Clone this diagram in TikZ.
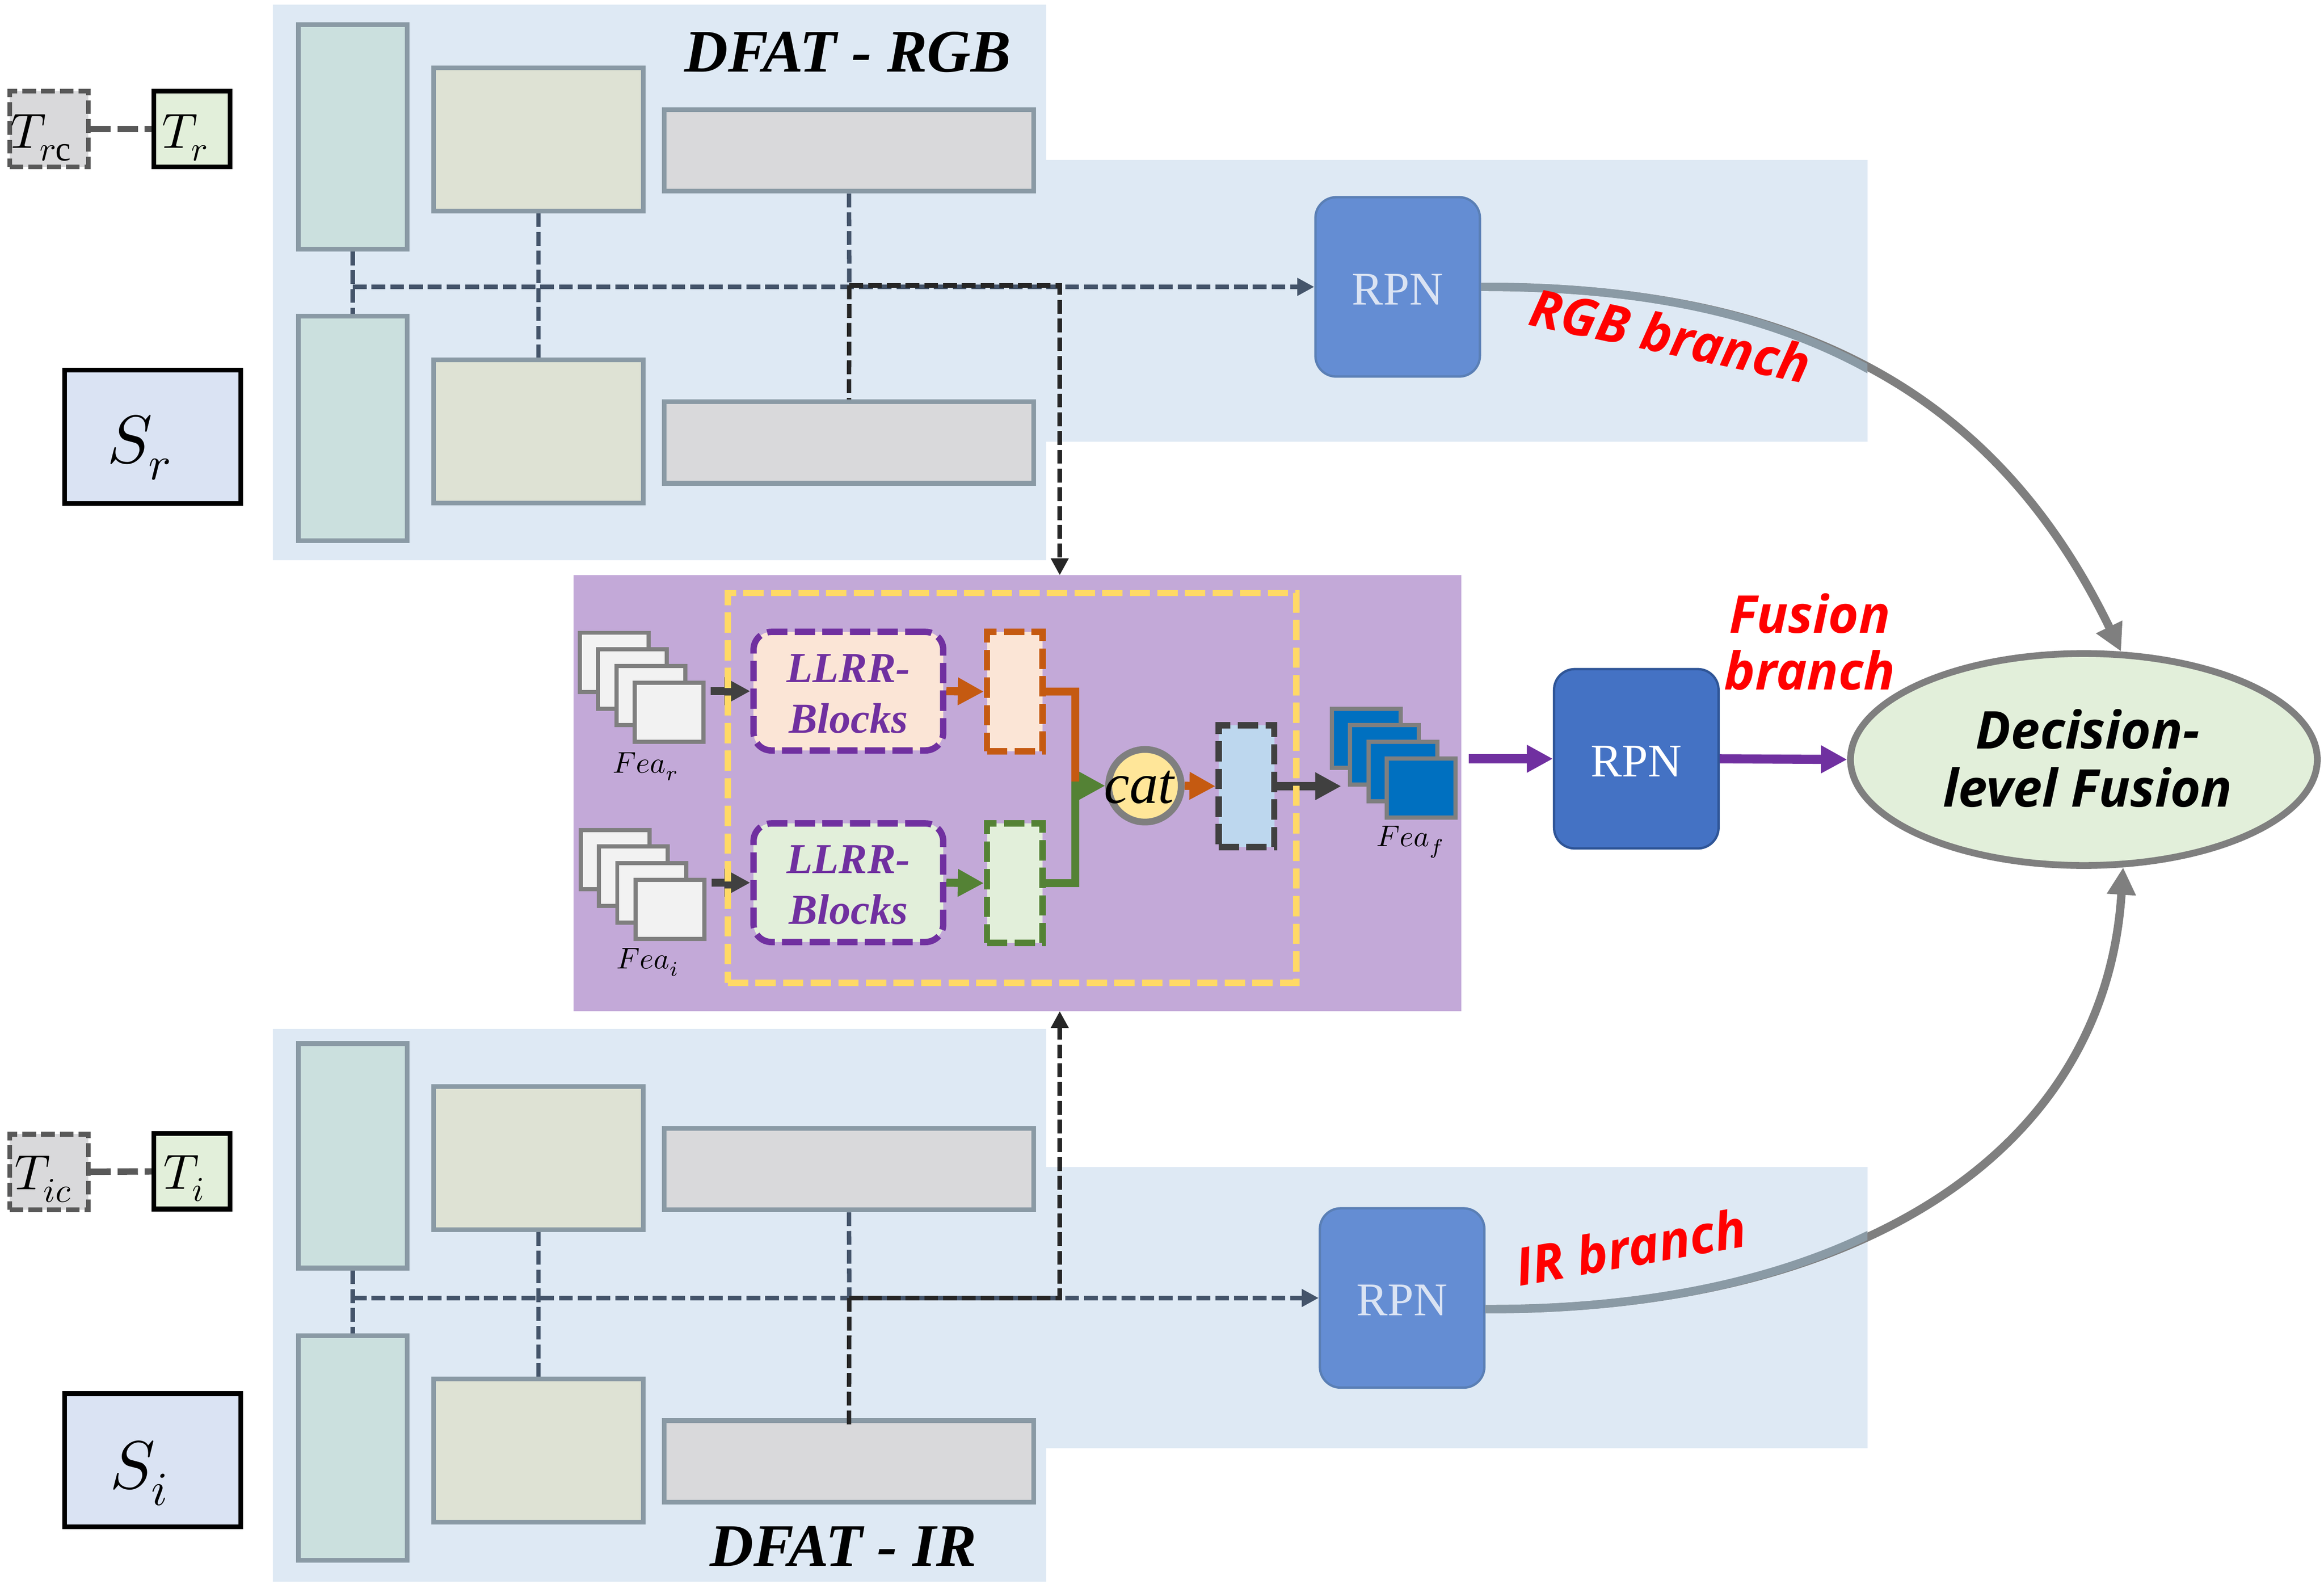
\documentclass[tikz,border=0pt]{standalone}
\usepackage{amsmath}
\usepackage{fontspec}
\usepackage{unicode-math}
\setmainfont{Liberation Serif}
\setmathfont{Latin Modern Math}
\newfontfamily\branchfont{Open Sans}
\usepackage{xcolor}
\usepackage{tikz}
\usetikzlibrary{arrows.meta, shapes.geometric, positioning}

\definecolor{panelblue}{HTML}{DEE9F4}
\definecolor{panelpurple}{HTML}{C3A9D8}
\definecolor{blockedge}{HTML}{8A9AA5}
\definecolor{blockteal}{HTML}{CBE0DE}
\definecolor{blockolive}{HTML}{DEE2D4}
\definecolor{blockgray}{HTML}{D9D9DB}
\definecolor{linkslate}{HTML}{44546A}
\definecolor{linkdark}{HTML}{262626}
\definecolor{greyedge}{HTML}{7F7F7F}
\definecolor{softorange}{HTML}{FBE5D6}
\definecolor{softgreen}{HTML}{E2EFDA}
\definecolor{softblue}{HTML}{BDD7EE}
\definecolor{softnavy}{HTML}{DAE3F3}
\definecolor{llrrpurple}{HTML}{7030A0}
\definecolor{burnt}{HTML}{C55A11}
\definecolor{moss}{HTML}{548235}
\definecolor{charcoal}{HTML}{404040}
\definecolor{cropedge}{HTML}{595959}
\definecolor{goldline}{HTML}{FFD966}
\definecolor{catfill}{HTML}{FFE699}
\definecolor{rpnsoft}{HTML}{648DD3}
\definecolor{rpnsoftedge}{HTML}{5A7FB5}
\definecolor{rpnstrong}{HTML}{4472C4}
\definecolor{rpnstrongedge}{HTML}{2F5597}
\definecolor{featblue}{HTML}{0070C0}

\begin{document}
\begin{tikzpicture}[
    x=0.02cm, y=-0.02cm,
    panel/.style={rectangle, fill=panelblue, inner sep=0pt, outer sep=0pt},
    block/.style={rectangle, draw=blockedge, line width=1.8pt, inner sep=0pt},
    tealblock/.style={block, fill=blockteal, minimum width=1.47cm, minimum height=3.03cm},
    oliveblock/.style={block, fill=blockolive, minimum width=2.83cm, minimum height=1.93cm},
    grayblock/.style={block, fill=blockgray, minimum width=4.99cm, minimum height=1.1cm},
    template/.style={rectangle, draw=black, fill=softgreen, line width=1.8pt, inner sep=0pt, minimum width=1.03cm, minimum height=1.02cm, text height=14.8pt, text depth=0pt, font=\fontsize{19}{22}\selectfont},
    crop/.style={rectangle, draw=cropedge, fill=blockgray, line width=1.8pt, dash pattern=on 5.3pt off 1.9pt, inner sep=0pt, minimum width=1.06cm, minimum height=1.02cm, text height=14.8pt, text depth=0pt, font=\fontsize{19}{22}\selectfont},
    search/.style={rectangle, draw=black, fill=softnavy, line width=1.8pt, inner sep=0pt, minimum width=2.38cm, minimum height=1.8cm, text depth=0pt, font=\fontsize{26}{30}\selectfont},
    rpn/.style={rectangle, rounded corners=0.28cm, inner sep=0pt, minimum width=2.22cm, minimum height=2.42cm, text height=13.6pt, text depth=0pt, font=\fontsize{18}{20}\selectfont},
    softrpn/.style={rpn, draw=rpnsoftedge, fill=rpnsoft, line width=0.9pt, text=softnavy},
    strongrpn/.style={rpn, draw=rpnstrongedge, fill=rpnstrong, line width=0.9pt, text=white},
    llrr/.style={rectangle, rounded corners=0.24cm, draw=llrrpurple, line width=2.45pt, dash pattern=on 7.8pt off 2.8pt, inner sep=0pt, minimum width=2.56cm, minimum height=1.6cm},
    llrrtext/.style={align=center, inner sep=0pt, text=llrrpurple, font=\fontsize{16.4}{19.5}\selectfont\bfseries\itshape},
    slim/.style={rectangle, line width=2.45pt, dash pattern=on 7.8pt off 2.8pt, inner sep=0pt, minimum width=0.75cm, minimum height=1.61cm},
    featcard/.style={rectangle, draw=greyedge, fill=white!95!black, line width=1.6pt, inner sep=0pt, minimum width=0.93cm, minimum height=0.8cm},
    feattext/.style={font=\fontsize{11.5}{13}\selectfont},
    redtext/.style={text=red, align=center, font=\fontsize{20}{21.8}\branchfont\bfseries\itshape},
    thindash/.style={draw=linkslate, line width=1.7pt, dash pattern=on 5.3pt off 1.9pt},
    darkdash/.style={draw=linkdark, line width=1.7pt, dash pattern=on 5.3pt off 1.9pt},
    tinytip/.style={-{Triangle[length=6.5pt, width=6.5pt]}},
    thick tip/.style={-{Triangle[length=10pt, width=10pt]}},
    flowline/.style={line width=3.1pt, thick tip},
    greyarc/.style={draw=greyedge, line width=3.2pt},
    arctip/.style={-{Triangle[length=10.5pt, width=10.5pt]}}
]

% blue panels behind the two trackers
\node[panel, minimum width=10.44cm, minimum height=7.5cm] (panelRmain) at (445,190.5) {};
\node[panel, minimum width=11.08cm, minimum height=3.8cm] (panelRside) at (983,203) {};
\node[panel, minimum width=10.44cm, minimum height=7.46cm] (panelImain) at (445,880.5) {};
\node[panel, minimum width=11.08cm, minimum height=3.8cm] (panelIside) at (983,882) {};
\node[rectangle, fill=panelpurple, inner sep=0pt, minimum width=11.98cm, minimum height=5.88cm] (panelFusion) at (686.5,535) {};

% RGB tracker
\node[tealblock] (tealRa) at (238,92.3) {};
\node[tealblock] (tealRb) at (238,289) {};
\node[oliveblock] (oliveRa) at (363.3,94) {};
\node[oliveblock] (oliveRb) at (363.3,291) {};
\node[grayblock] (grayRa) at (572.8,101.5) {};
\node[grayblock] (grayRb) at (572.8,298.5) {};
\node[font=\fontsize{23.2}{26}\selectfont\bfseries\itshape] (titleR) at (572,35) {DFAT - RGB};

% IR tracker
\node[tealblock] (tealIa) at (238,779.6) {};
\node[tealblock] (tealIb) at (238,976.6) {};
\node[oliveblock] (oliveIa) at (363.3,781.2) {};
\node[oliveblock] (oliveIb) at (363.3,978.5) {};
\node[grayblock] (grayIa) at (572.8,788.6) {};
\node[grayblock] (grayIb) at (572.8,985.7) {};
\node[font=\fontsize{23.2}{26}\selectfont\bfseries\itshape] (titleI) at (569,1043) {DFAT - IR};

% inputs on the left
\node[crop] (cropR) at (33,87) {$T_{r\mathrm{c}}$\kern0.2cm};
\node[template] (tmplR) at (129.5,87) {$T_r$\kern0.18cm};
\node[search, text height=20pt] (searchR) at (103,294.5) {$S_r$\kern0.36cm};
\node[crop, text height=13.6pt] (cropI) at (33,790.5) {$T_{ic}$\kern0.14cm};
\node[template, text height=13.6pt] (tmplI) at (129.5,790) {$T_i$\kern0.2cm};
\node[search, text height=21.6pt] (searchI) at (103,985) {$S_i$\kern0.36cm};
\draw[draw=cropedge, line width=2.45pt, dash pattern=on 7.8pt off 2.6pt] (cropR) -- (tmplR);
\draw[draw=cropedge, line width=2.45pt, dash pattern=on 7.8pt off 2.6pt] (cropI) -- (tmplI);

% RPN heads and final ellipse
\node[softrpn] (rpnR) at (943,193.5) {RPN};
\node[softrpn] (rpnI) at (946,875.5) {RPN};
\node[strongrpn] (rpnF) at (1104,511.8) {RPN};
\node[ellipse, draw=greyedge, fill=softgreen, line width=2.6pt, inner sep=0pt, minimum width=6.3cm, minimum height=2.86cm] (decision) at (1406,512.3) {};
\node[align=center, inner sep=0pt, font=\fontsize{20}{22.4}\branchfont\bfseries\itshape] (decisionText) at (1408.5,511.5) {Decision-\\level Fusion};

% dashed links of the RGB tracker
\coordinate (hubRa) at (238,193.5);
\coordinate (hubRb) at (573,192.5);
\coordinate (entryR) at (715,388);
\draw[thindash] (tealRa) -- (tealRb);
\draw[thindash] (oliveRa) -- (oliveRb);
\draw[thindash, tinytip] (hubRa) -- (rpnR.west);
\draw[thindash] (grayRa.south) -- (hubRb);
\draw[darkdash] (hubRb) -- (grayRb.north);
\draw[darkdash, tinytip] (hubRb) -| (entryR);

% dashed links of the IR tracker
\coordinate (hubIa) at (238,875.5);
\coordinate (hubIb) at (573,875.5);
\coordinate (entryI) at (715,682);
\draw[thindash] (tealIa) -- (tealIb);
\draw[thindash] (oliveIa) -- (oliveIb);
\draw[thindash, tinytip] (hubIa) -- (rpnI.west);
\draw[thindash] (grayIa.south) -- (hubIb);
\draw[darkdash, shorten >=-3pt] (hubIb) -- (grayIb.north);
\draw[darkdash, tinytip] (hubIb) -| (entryI);

% fusion block
\foreach \i in {0,...,3} {
    \node[featcard] (feaR\i) at ({414.4+12.35*\i},{446.8+11.2*\i}) {};
    \node[featcard] (feaI\i) at ({415+12.35*\i},{579.8+11.2*\i}) {};
    \node[featcard, fill=featblue] (feaF\i) at ({921.8+12.35*\i},{498+11.2*\i}) {};
}
\node[feattext] (labelR) at (435.6,517) {$Fea_r$};
\node[feattext] (labelI) at (437.2,649) {$Fea_i$};
\node[feattext] (labelF) at (951.5,568) {$Fea_f$};

\node[llrr, fill=softorange] (llrrR) at (572.4,466.2) {};
\node[llrr, fill=softgreen] (llrrI) at (572.4,595.4) {};
\node[llrrtext] (llrrRtext) at (572.4,468) {LLRR-\\Blocks};
\node[llrrtext] (llrrItext) at (572.4,597) {LLRR-\\Blocks};
\node[slim, draw=burnt, fill=softorange] (slimR) at (684.7,466.5) {};
\node[slim, draw=moss, fill=softgreen] (slimI) at (684.7,595.7) {};
\node[circle, draw=greyedge, fill=catfill, line width=2.6pt, inner sep=0pt, minimum size=0.98cm] (cat) at (772.5,530) {};
\node[slim, draw=charcoal, fill=softblue, minimum height=1.64cm] (slimF) at (841,530.3) {};

\coordinate (join) at (725.5,530);
\draw[draw=charcoal, flowline] ([xshift=2pt]llrrR.west -| feaR3.east) -- (llrrR.west);
\draw[draw=charcoal, flowline] ([xshift=2pt]llrrI.west -| feaI3.east) -- (llrrI.west);
\draw[draw=burnt, flowline] (llrrR.east) -- (slimR.west);
\draw[draw=moss, flowline] (llrrI.east) -- (slimI.west);
\draw[draw=burnt, line width=3.1pt] (slimR.east) -| (join);
\draw[draw=moss, flowline] (slimI.east) -| (join) -- (cat.west);
\draw[draw=burnt, flowline] (cat.east) -- (slimF.west);
\draw[draw=charcoal, flowline] (slimF.east) -- ++(43,0) coordinate (feaEntry);
\node[font=\fontsize{22}{24}\selectfont\itshape, inner sep=0pt] (catname) at (768.5,531) {cat};

\node[rectangle, draw=goldline, line width=2.45pt, dash pattern=on 7.8pt off 2.8pt, inner sep=0pt, minimum width=7.67cm, minimum height=5.26cm] (window) at (682.8,531.5) {};

% outputs
\coordinate (fusionOut) at (991,511.8);
\draw[draw=llrrpurple, line width=3.5pt, thick tip] (fusionOut) -- (rpnF.west);
\draw[draw=llrrpurple, line width=3.5pt, thick tip] (rpnF.east) -- (decision.west);
\coordinate (startI) at (1002,883);
\draw[greyarc, arctip] (rpnR.east) .. controls (1210,193) and (1345,262) .. (decision.71);
\draw[greyarc, arctip] (startI) .. controls (1250,884) and (1420,780) .. (decision.290);
\begin{scope}
\clip (panelRside.north west) rectangle (panelRside.south east);
\draw[greyarc, draw=blockedge] (rpnR.east) .. controls (1210,193) and (1345,262) .. (decision.71);
\end{scope}
\begin{scope}
\clip (panelIside.north west) rectangle (panelIside.south east);
\draw[greyarc, draw=blockedge] (startI) .. controls (1250,884) and (1420,780) .. (decision.290);
\end{scope}

% branch names
\node[redtext, rotate=-12] (nameR) at (1127,226) {RGB branch};
\node[redtext, rotate=10] (nameI) at (1100,841) {IR branch};
\node[redtext] (nameF) at (1221,433) {Fusion\\branch};

\useasboundingbox (0,0) rectangle (1568,1068.3);
\end{tikzpicture}
\end{document}
